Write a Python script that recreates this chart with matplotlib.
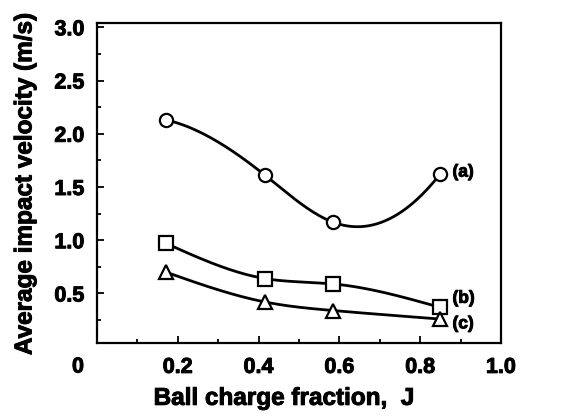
import numpy as np
import matplotlib
matplotlib.use('Agg')
import matplotlib.pyplot as plt
import matplotlib.patheffects as pe
from matplotlib.ticker import MultipleLocator

plt.rcParams['font.family'] = ['Liberation Sans', 'DejaVu Sans']
plt.rcParams['font.weight'] = 'bold'

# data
j_frac = [0.171, 0.416, 0.584, 0.849]
vel_a = [2.13, 1.61, 1.17, 1.62]
vel_b = [0.97, 0.64, 0.59, 0.37]
vel_c = [0.70, 0.42, 0.34, 0.26]
series_labels = ['(a)', '(b)', '(c)']
markers = ['o', 's', '^']
# share of plain cubic vs natural spline in the drawn line
cubic_share = [0.55, 0.0, 0.0]


def natural_spline(x, y, xs):
    k = len(x)
    h = np.diff(x)
    A = np.zeros((k, k))
    r = np.zeros(k)
    A[0, 0] = 1
    A[-1, -1] = 1
    for i in range(1, k - 1):
        A[i, i - 1] = h[i - 1]
        A[i, i] = 2 * (h[i - 1] + h[i])
        A[i, i + 1] = h[i]
        r[i] = 3 * ((y[i + 1] - y[i]) / h[i] - (y[i] - y[i - 1]) / h[i - 1])
    c = np.linalg.solve(A, r)
    ys = np.zeros_like(xs)
    for m, xv in enumerate(xs):
        i = min(np.searchsorted(x, xv, side='right') - 1, k - 2)
        dx = xv - x[i]
        b = (y[i + 1] - y[i]) / h[i] - h[i] * (2 * c[i] + c[i + 1]) / 3
        d = (c[i + 1] - c[i]) / (3 * h[i])
        ys[m] = y[i] + b * dx + c[i] * dx ** 2 + d * dx ** 3
    return ys


def smooth_curve(x, y, share=0.0, n=200):
    """smooth line through the points (drawing only)"""
    x = np.asarray(x, float)
    y = np.asarray(y, float)
    xs = np.linspace(x[0], x[-1], n)
    ys = natural_spline(x, y, xs)
    if share > 0:
        coef = np.polyfit(x, y, len(x) - 1)
        ys = (1 - share) * ys + share * np.polyval(coef, xs)
    return xs, ys


heavy = [pe.withStroke(linewidth=0.7, foreground='black')]

fig = plt.figure(figsize=(5.63, 4.16), dpi=100, facecolor='white')
ax = fig.add_axes([97 / 563, 1 - 343 / 416, 404 / 563, 320 / 416])

for vals, mk, share in zip([vel_a, vel_b, vel_c], markers, cubic_share):
    xs, ys = smooth_curve(j_frac, vals, share)
    ax.plot(xs, ys, color='black', linewidth=2.0, zorder=2)
    ax.plot(j_frac, vals, linestyle='none', marker=mk,
            markersize=10.5 if mk != 'o' else 9.5,
            markerfacecolor='white', markeredgecolor='black',
            markeredgewidth=1.6, zorder=3)

# series tags at the right end
tag_offsets = [0.02, 0.085, -0.045]
for vals, lab, off in zip([vel_a, vel_b, vel_c], series_labels, tag_offsets):
    ax.annotate(lab, (j_frac[-1], vals[-1] + off), xytext=(9, 0),
                textcoords='offset points', ha='left', va='center',
                fontsize=12.5, fontweight='bold', path_effects=heavy)

ax.set_xlim(0, 1.0)
ax.set_ylim(0.035, 3.04)
ax.set_xticks([0.2, 0.4, 0.6, 0.8, 1.0])
ax.set_xticklabels(['0.2', '0.4', '0.6', '0.8', '1.0'])
ax.set_yticks([0.5, 1.0, 1.5, 2.0, 2.5, 3.0])
ax.set_yticklabels(['0.5', '1.0', '1.5', '2.0', '2.5', '3.0'])
ax.xaxis.set_minor_locator(MultipleLocator(0.1))
ax.yaxis.set_minor_locator(MultipleLocator(0.25))
ax.tick_params(which='both', direction='in', width=1.3, labelsize=15.5)
ax.tick_params(which='major', length=5)
ax.tick_params(which='minor', length=3)
ax.tick_params(axis='x', pad=10)
ax.tick_params(axis='y', pad=9)
for lbl in ax.get_xticklabels() + ax.get_yticklabels():
    lbl.set_fontweight('bold')
    lbl.set_path_effects(heavy)
for sp in ax.spines.values():
    sp.set_linewidth(1.6)

# origin label shared by both axes
fig.text(78 / 563, 1 - 367 / 416, '0', ha='center', va='center',
         fontsize=15.5, fontweight='bold', path_effects=heavy)

ax.set_xlabel('Ball charge fraction,  J', fontsize=17.5, fontweight='bold',
              path_effects=heavy)
ax.set_ylabel('Average impact velocity (m/s)', fontsize=17.5, fontweight='bold',
              path_effects=heavy)
ax.xaxis.set_label_coords(0.463, -0.137)
ax.yaxis.set_label_coords(-0.15, 0.497)

fig.savefig('out.png', dpi=100)
